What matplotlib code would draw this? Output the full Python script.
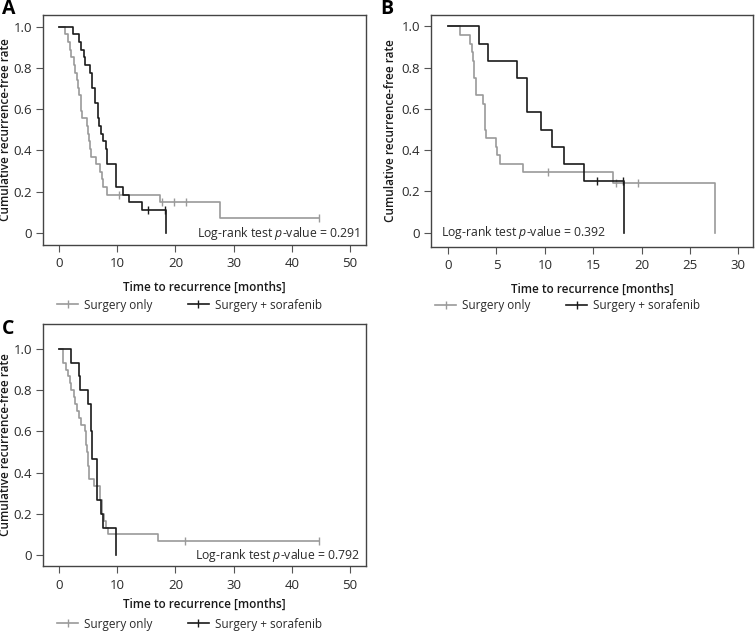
import matplotlib
matplotlib.use("Agg")
import matplotlib.pyplot as plt
from matplotlib.lines import Line2D

plt.rcParams['font.family'] = ['Open Sans', 'DejaVu Sans']
plt.rcParams['mathtext.fontset'] = 'custom'
plt.rcParams['mathtext.rm'] = 'Open Sans'
plt.rcParams['mathtext.it'] = 'Open Sans:italic'

GRAY = '#9a9a9a'
BLACK = '#1a1a1a'

# panel A - all patients
a_only_t = [1.0, 1.5, 1.8, 2.1, 2.5, 2.8, 3.0, 3.2, 3.4, 3.7, 4.0, 4.8, 5.0, 5.1, 5.3, 5.5,
            6.4, 7.0, 7.3, 7.6, 8.2, 17.3, 27.6]
a_only_s = [0.963, 0.926, 0.889, 0.852, 0.815, 0.778, 0.741, 0.704, 0.667, 0.593, 0.556,
            0.519, 0.481, 0.444, 0.407, 0.370, 0.333, 0.296, 0.259, 0.222, 0.185, 0.148, 0.074]
a_only_end = 44.6
a_only_cens = [10.3, 17.6, 19.8, 21.8, 44.6]
a_sor_t = [2.4, 3.4, 3.8, 4.2, 4.5, 5.3, 5.7, 6.1, 6.7, 6.9, 7.2, 7.6, 8.0, 8.3, 9.8, 10.9,
           12.1, 14.2, 18.3]
a_sor_s = [0.963, 0.926, 0.889, 0.852, 0.815, 0.778, 0.704, 0.630, 0.556, 0.519, 0.481,
           0.444, 0.407, 0.333, 0.222, 0.185, 0.148, 0.111, 0.0]
a_sor_end = 18.3
a_sor_cens = [15.3, 18.2]

# panel B
b_only_t = [1.2, 2.3, 2.5, 2.6, 2.7, 2.9, 3.6, 3.8, 3.9, 4.9, 5.1, 5.4, 7.7, 17.1, 27.6]
b_only_s = [0.958, 0.917, 0.875, 0.833, 0.75, 0.667, 0.625, 0.5, 0.458, 0.417, 0.375,
            0.333, 0.292, 0.243, 0.0]
b_only_end = 27.6
b_only_cens = [10.3, 17.4, 19.6]
b_sor_t = [3.2, 4.1, 7.1, 8.2, 9.6, 10.7, 12.0, 14.0, 18.2]
b_sor_s = [0.917, 0.833, 0.75, 0.583, 0.5, 0.417, 0.333, 0.25, 0.0]
b_sor_end = 18.2
b_sor_cens = [15.4, 18.1]

# panel C
c_only_t = [0.7, 1.2, 1.5, 1.8, 2.1, 2.6, 2.8, 3.1, 3.4, 3.8, 4.4, 4.6, 4.7, 4.8, 4.9, 5.0,
            5.2, 6.0, 7.0, 7.1, 7.3, 7.4, 7.8, 8.1, 8.4, 17.0]
c_only_s = [0.933, 0.9, 0.867, 0.833, 0.8, 0.767, 0.733, 0.7, 0.667, 0.633, 0.6, 0.567,
            0.533, 0.5, 0.467, 0.433, 0.367, 0.333, 0.3, 0.267, 0.233, 0.2, 0.167, 0.133,
            0.1, 0.067]
c_only_end = 44.6
c_only_cens = [21.7, 44.6]
c_sor_t = [2.0, 3.4, 3.6, 5.0, 5.5, 5.7, 6.6, 7.2, 7.6, 9.7]
c_sor_s = [0.933, 0.867, 0.8, 0.733, 0.6, 0.467, 0.267, 0.2, 0.133, 0.0]
c_sor_end = 9.7
c_sor_cens = []

labels = ['Surgery only', 'Surgery + sorafenib']
pvals = ['0.291', '0.392', '0.792']


def km(ax, t, s, end, cens, color):
    xs = [0] + t + [end]
    ys = [1.0] + s + [s[-1]]
    ax.step(xs, ys, where='post', color=color, lw=1.2)
    # censor marks at the level in force at that time
    cy = []
    for c in cens:
        lvl = 1.0
        for ti, si in zip(t, s):
            if ti <= c and si > 0:
                lvl = si
        cy.append(lvl)
    ax.plot(cens, cy, ls='none', marker='|', ms=6, mew=1.0, color=color)


def style(ax, xmax, xstep, xlim, ylim):
    ax.set_xlim(*xlim)
    ax.set_ylim(*ylim)
    ax.set_xticks(range(0, xmax + 1, xstep))
    ax.set_yticks([0, 0.2, 0.4, 0.6, 0.8, 1.0])
    ax.set_yticklabels(['0', '0.2', '0.4', '0.6', '0.8', '1.0'])
    for sp in ax.spines.values():
        sp.set_color('#444444')
        sp.set_linewidth(1.0)
    ax.tick_params(direction='out', length=5, width=0.8, color='#555555',
                   labelsize=9.5, labelcolor='#2a2a2a', pad=3)
    ax.tick_params(axis='x', pad=4)
    ax.set_xlabel('Time to recurrence [months]', fontsize=8.5, fontweight='semibold',
                  color='#1a1a1a')
    ax.set_ylabel('Cumulative recurrence-free rate', fontsize=8.5, fontweight='semibold',
                  color='#1a1a1a')
    ax.xaxis.set_label_coords(0.5, -0.155)
    ax.yaxis.set_label_coords(-0.096, 0.5)


fig = plt.figure(figsize=(7.55, 6.31), dpi=100)
axA = fig.add_axes([0.057, 0.612, 0.428, 0.3645])
axB = fig.add_axes([0.571, 0.609, 0.426, 0.368])
axC = fig.add_axes([0.057, 0.103, 0.428, 0.3835])

km(axA, a_only_t, a_only_s, a_only_end, a_only_cens, GRAY)
km(axA, a_sor_t, a_sor_s, a_sor_end, a_sor_cens, BLACK)
style(axA, 50, 10, (-2.75, 52.75), (-0.058, 1.058))

km(axB, b_only_t, b_only_s, b_only_end, b_only_cens, GRAY)
km(axB, b_sor_t, b_sor_s, b_sor_end, b_sor_cens, BLACK)
style(axB, 30, 5, (-1.76, 31.5), (-0.068, 1.058))
axB.yaxis.set_label_coords(-0.106, 0.5)

km(axC, c_only_t, c_only_s, c_only_end, c_only_cens, GRAY)
km(axC, c_sor_t, c_sor_s, c_sor_end, c_sor_cens, BLACK)
style(axC, 50, 10, (-2.75, 52.75), (-0.053, 1.121))
axC.xaxis.set_label_coords(0.5, -0.13)

axA.text(0.981, 0.048, r'Log-rank test $\it{p}$-value = ' + pvals[0], transform=axA.transAxes,
         ha='right', va='center', fontsize=8.8, color='#2a2a2a')
axB.text(0.031, 0.06, r'Log-rank test $\it{p}$-value = ' + pvals[1], transform=axB.transAxes,
         ha='left', va='center', fontsize=8.8, color='#2a2a2a')
axC.text(0.981, 0.043, r'Log-rank test $\it{p}$-value = ' + pvals[2], transform=axC.transAxes,
         ha='right', va='center', fontsize=8.8, color='#2a2a2a')

handles = [Line2D([], [], color=GRAY, lw=1.2, marker='|', ms=6),
           Line2D([], [], color=BLACK, lw=1.2, marker='|', ms=6)]
for ax, x0, y0 in [(axA, 0.043, -0.262), (axB, 0.012, -0.252), (axC, 0.043, -0.24)]:
    ax.legend(handles, labels, loc='center left', bbox_to_anchor=(x0, y0), ncol=2,
              frameon=False, fontsize=8.5, handlelength=1.8, handletextpad=0.5,
              columnspacing=3.0, borderpad=0, borderaxespad=0,
              labelcolor='#2a2a2a')

fig.text(0.003, 0.985, 'A', fontsize=14, fontweight='bold', va='center', ha='left')
fig.text(0.503, 0.985, 'B', fontsize=14, fontweight='bold', va='center', ha='left')
fig.text(0.003, 0.478, 'C', fontsize=14, fontweight='bold', va='center', ha='left')

fig.savefig('out.png', dpi=100)
